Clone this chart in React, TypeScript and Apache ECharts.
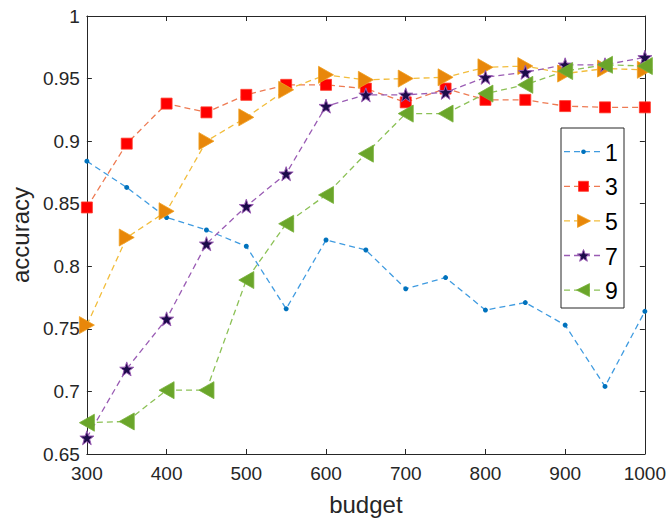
import React, { useEffect, useRef } from "react";
import * as echarts from "echarts";

const budgets = [300, 350, 400, 450, 500, 550, 600, 650, 700, 750, 800, 850, 900, 950, 1000];
const seriesNames = ["1", "3", "5", "7", "9"];
const s1 = [0.884, 0.863, 0.839, 0.829, 0.816, 0.766, 0.821, 0.813, 0.782, 0.791, 0.765, 0.771, 0.753, 0.704, 0.764];
const s3 = [0.847, 0.898, 0.930, 0.923, 0.937, 0.945, 0.945, 0.942, 0.931, 0.942, 0.933, 0.933, 0.928, 0.927, 0.927];
const s5 = [0.753, 0.823, 0.844, 0.900, 0.919, 0.941, 0.953, 0.949, 0.950, 0.951, 0.959, 0.960, 0.954, 0.958, 0.957];
const s7 = [0.663, 0.718, 0.758, 0.818, 0.848, 0.874, 0.928, 0.937, 0.937, 0.939, 0.951, 0.955, 0.961, 0.961, 0.967];
const s9 = [0.675, 0.676, 0.701, 0.701, 0.789, 0.834, 0.857, 0.890, 0.922, 0.922, 0.938, 0.945, 0.956, 0.961, 0.960];
const xTicks = { min: 300, max: 1000, interval: 100 };
const yTicks = { min: 0.65, max: 1, interval: 0.05 };

const STAR =
  "path://M0,-10 L2.35,-3.24 L9.51,-3.09 L3.8,1.24 L5.88,8.09 L0,4 L-5.88,8.09 L-3.8,1.24 L-9.51,-3.09 L-2.35,-3.24 Z";
const RIGHT_TRI = "path://M0,0 L10,6 L0,12 Z";
const LEFT_TRI = "path://M10,0 L0,6 L10,12 Z";

const FONT = "Liberation Sans, Arial, sans-serif";
const AX = "#262626";

const styles = [
  { line: "#3f9be0", fill: "#0072BD", border: "#0072BD", bw: 0 },
  { line: "#ee7a52", fill: "#ff0000", border: "#ff3a2a", bw: 0.8 },
  { line: "#f2bd3c", fill: "#e8870a", border: "#f0a020", bw: 0.8 },
  { line: "#9a5cb4", fill: "#1c0b4a", border: "#9a5cb4", bw: 1 },
  { line: "#8cc156", fill: "#6aa52a", border: "#78b23a", bw: 0.8 },
];

function starPoints(cx: number, cy: number, R: number): number[][] {
  const pts: number[][] = [];
  const r = R * 0.42;
  for (let k = 0; k < 10; k++) {
    const a = -Math.PI / 2 + (k * Math.PI) / 5;
    const rr = k % 2 === 0 ? R : r;
    pts.push([cx + rr * Math.cos(a), cy + rr * Math.sin(a)]);
  }
  return pts;
}

function legendGraphics() {
  const bx = 561, by = 128, bw = 63, bh = 180;
  const els: any[] = [
    { type: "rect", shape: { x: bx, y: by, width: bw, height: bh }, style: { fill: "#fff", stroke: AX, lineWidth: 1 }, z: 100 },
  ];
  const x0 = 564, x1 = 603, mx = (x0 + x1) / 2;
  seriesNames.forEach((name, i) => {
    const cy = 151.7 + i * 34.6;
    const st = styles[i];
    els.push({
      type: "line",
      shape: { x1: x0, y1: cy, x2: x1, y2: cy },
      style: { stroke: st.line, lineWidth: 1.3, lineDash: [6, 4] },
      z: 101,
    });
    let marker: any;
    const ms = { fill: st.fill, stroke: st.border, lineWidth: st.bw };
    if (i === 0) marker = { type: "circle", shape: { cx: mx, cy, r: 2.3 }, style: ms };
    else if (i === 1) marker = { type: "rect", shape: { x: mx - 5, y: cy - 5, width: 10, height: 10 }, style: ms };
    else if (i === 2)
      marker = { type: "polygon", shape: { points: [[mx - 6, cy - 6.5], [mx + 7, cy], [mx - 6, cy + 6.5]] }, style: ms };
    else if (i === 3) marker = { type: "polygon", shape: { points: starPoints(mx, cy + 0.5, 6.5) }, style: ms };
    else marker = { type: "polygon", shape: { points: [[mx + 6, cy - 6.5], [mx - 7, cy], [mx + 6, cy + 6.5]] }, style: ms };
    marker.z = 102;
    els.push(marker);
    els.push({
      type: "text",
      x: 605,
      y: cy + 1,
      style: { text: name, fontSize: 23, fill: "#000", fontFamily: FONT, textVerticalAlign: "middle", verticalAlign: "middle" },
      z: 102,
    });
  });
  return els;
}

export default function App() {
  const ref = useRef<HTMLDivElement>(null);
  useEffect(() => {
    if (!ref.current) return;
    const chart = echarts.init(ref.current, undefined, { renderer: "svg" });
    const mk = (name: string, data: number[], i: number, symbol: string, size: number | number[]) => ({
      name,
      type: "line",
      data: budgets.map((b, k) => [b, data[k]]),
      symbol,
      symbolSize: size,
      showAllSymbol: true,
      lineStyle: { color: styles[i].line, width: 1.3, type: [6, 4] },
      itemStyle: { color: styles[i].fill, borderColor: styles[i].border, borderWidth: styles[i].bw },
      emphasis: { disabled: true },
    });
    const axisCommon = {
      axisLine: { show: true, onZero: false, lineStyle: { color: AX, width: 1 } },
      axisTick: { show: true, inside: true, length: 5, lineStyle: { color: AX } },
      splitLine: { show: false },
    };
    chart.setOption({
      animation: false,
      backgroundColor: "#ffffff",
      grid: { left: 82, top: 16, right: 22, bottom: 67 },
      graphic: legendGraphics(),
      xAxis: [
        {
          type: "value",
          ...xTicks,
          position: "bottom",
          ...axisCommon,
          axisLabel: { fontSize: 19, color: AX, fontFamily: FONT, margin: 10, formatter: (v: number) => String(v) },
          name: "budget",
          nameLocation: "middle",
          nameGap: 38,
          nameTextStyle: { fontSize: 24, color: AX, fontFamily: FONT },
        },
        {
          type: "value",
          ...xTicks,
          position: "top",
          ...axisCommon,
          axisLabel: { show: false },
        },
      ],
      yAxis: [
        {
          type: "value",
          ...yTicks,
          position: "left",
          ...axisCommon,
          axisLabel: { fontSize: 19, color: AX, fontFamily: FONT, margin: 7 },
          name: "accuracy",
          nameLocation: "middle",
          nameGap: 48,
          nameTextStyle: { fontSize: 24, color: AX, fontFamily: FONT },
        },
        {
          type: "value",
          ...yTicks,
          position: "right",
          ...axisCommon,
          axisLabel: { show: false },
        },
      ],
      series: [
        mk(seriesNames[0], s1, 0, "circle", 5),
        mk(seriesNames[1], s3, 1, "rect", 11),
        mk(seriesNames[2], s5, 2, RIGHT_TRI, [15, 17]),
        mk(seriesNames[3], s7, 3, STAR, 14),
        mk(seriesNames[4], s9, 4, LEFT_TRI, [15, 17]),
      ],
    });
    return () => chart.dispose();
  }, []);
  return <div ref={ref} style={{ width: 669, height: 521, position: "absolute", left: 0, top: 0 }} />;
}
